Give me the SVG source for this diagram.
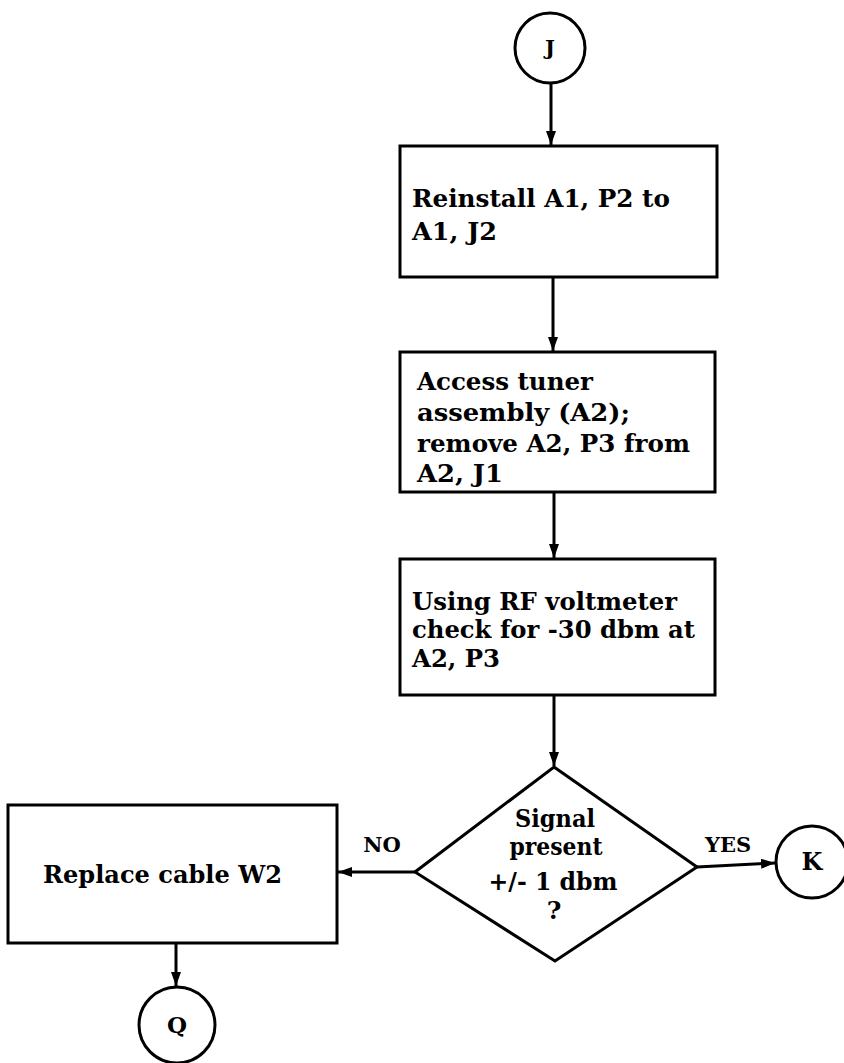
<svg xmlns="http://www.w3.org/2000/svg" width="844" height="1063" viewBox="0 0 844 1063">
<style>
.box{fill:#fff;stroke:#000;stroke-width:3}
.ln{fill:none;stroke:#000;stroke-width:3}
.t{font-family:"DejaVu Serif","Liberation Serif",serif;font-weight:bold;font-size:25px;fill:#000}
.s{font-family:"DejaVu Serif","Liberation Serif",serif;font-weight:bold;font-size:21px;fill:#000}
.c{text-anchor:middle}
</style>
<defs>
<marker id="ah" viewBox="0 0 14 10" refX="14" refY="5" markerWidth="14" markerHeight="10" markerUnits="userSpaceOnUse" orient="auto">
<path d="M0,0 L14,5 L0,10 Z" fill="#000"/>
</marker>
</defs>
<rect width="844" height="1063" fill="#fff"/>
<g id="connectors">
<line class="ln" x1="551" y1="83" x2="551" y2="145" marker-end="url(#ah)"/>
<line class="ln" x1="553" y1="278" x2="553" y2="351" marker-end="url(#ah)"/>
<line class="ln" x1="554" y1="493" x2="554" y2="558" marker-end="url(#ah)"/>
<line class="ln" x1="554" y1="696" x2="554" y2="766" marker-end="url(#ah)"/>
<line class="ln" x1="415" y1="872" x2="338" y2="872" marker-end="url(#ah)"/>
<line class="ln" x1="697" y1="867" x2="775" y2="863" marker-end="url(#ah)"/>
<line class="ln" x1="176" y1="944" x2="176" y2="986" marker-end="url(#ah)"/>
<text class="s c" x="382" y="852">NO</text>
<text class="s c" x="728" y="852">YES</text>
</g>
<g id="J">
<circle class="box" cx="550" cy="48" r="35"/>
<text class="s c" x="550" y="55">J</text>
</g>
<g id="reinstall">
<rect class="box" x="400" y="146" width="317" height="131"/>
<text class="t" x="412" y="207" textLength="258" lengthAdjust="spacingAndGlyphs">Reinstall A1, P2 to</text>
<text class="t" x="412" y="240" textLength="85" lengthAdjust="spacingAndGlyphs">A1, J2</text>
</g>
<g id="access">
<rect class="box" x="400" y="352" width="315" height="140"/>
<text class="t" x="417" y="390" textLength="176" lengthAdjust="spacingAndGlyphs">Access tuner</text>
<text class="t" x="417" y="421" textLength="213" lengthAdjust="spacingAndGlyphs">assembly (A2);</text>
<text class="t" x="417" y="452" textLength="273" lengthAdjust="spacingAndGlyphs">remove A2, P3 from</text>
<text class="t" x="417" y="482" textLength="86" lengthAdjust="spacingAndGlyphs">A2, J1</text>
</g>
<g id="check">
<rect class="box" x="400" y="559" width="315" height="136"/>
<text class="t" x="412" y="610" textLength="265" lengthAdjust="spacingAndGlyphs">Using RF voltmeter</text>
<text class="t" x="412" y="638" textLength="283" lengthAdjust="spacingAndGlyphs">check for -30 dbm at</text>
<text class="t" x="412" y="667" textLength="88" lengthAdjust="spacingAndGlyphs">A2, P3</text>
</g>
<g id="decision">
<polygon class="box" points="554,767 697,867 555,961 415,872"/>
<text class="t c" x="555" y="827" textLength="80" lengthAdjust="spacingAndGlyphs">Signal</text>
<text class="t c" x="556" y="855" textLength="93" lengthAdjust="spacingAndGlyphs">present</text>
<text class="t c" x="553" y="890" textLength="129" lengthAdjust="spacingAndGlyphs">+/- 1 dbm</text>
<text class="t c" x="554" y="919">?</text>
</g>
<g id="K">
<circle class="box" cx="812" cy="862" r="36"/>
<text class="s c" x="812" y="870" style="font-size:24px">K</text>
</g>
<g id="replace">
<rect class="box" x="8" y="805" width="329" height="138"/>
<text class="t" x="43" y="883" textLength="239" lengthAdjust="spacingAndGlyphs">Replace cable W2</text>
</g>
<g id="Q">
<circle class="box" cx="177" cy="1025" r="38"/>
<text class="s c" x="177" y="1033" style="font-size:23px">Q</text>
</g>
</svg>
